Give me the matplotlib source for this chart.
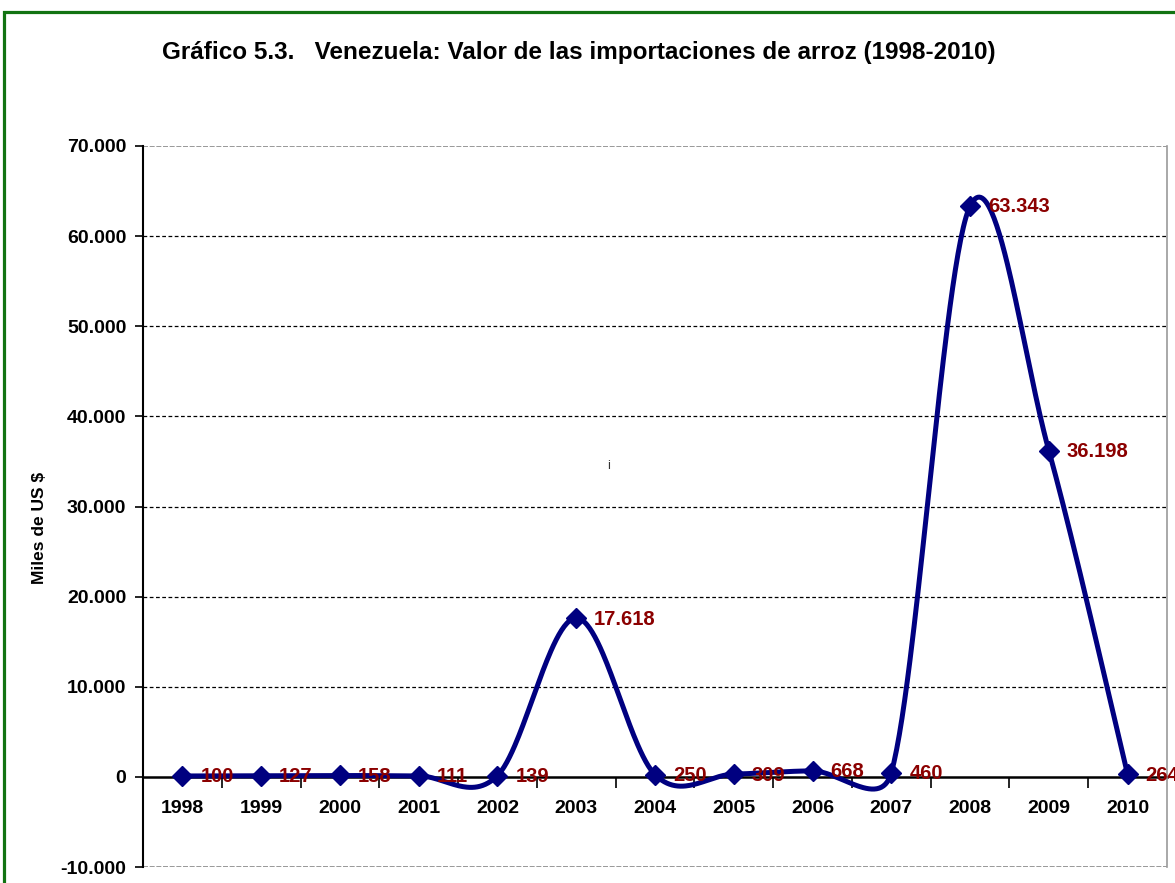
import numpy as np
import matplotlib
matplotlib.use("Agg")
import matplotlib.pyplot as plt
from matplotlib.patches import Rectangle
from matplotlib.ticker import FixedLocator, FuncFormatter

# ---- data ----
years = ["1998", "1999", "2000", "2001", "2002", "2003", "2004",
         "2005", "2006", "2007", "2008", "2009", "2010"]
values = [100, 127, 158, 111, 139, 17618, 250, 309, 668, 460, 63343, 36198, 264]
y_ticks = [-10000, 0, 10000, 20000, 30000, 40000, 50000, 60000, 70000]
title = "Gráfico 5.3.   Venezuela: Valor de las importaciones de arroz (1998-2010)"
ylabel = "Miles de US $"

plt.rcParams['font.family'] = ['Liberation Sans', 'DejaVu Sans']

W, H, DPI = 1175, 883, 100
fig = plt.figure(figsize=(W / DPI, H / DPI), dpi=DPI)
fig.patch.set_facecolor("white")

# green frame
fig.patches.append(Rectangle((4 / W, -0.2), 1.5, 1 - 12 / H + 0.2, transform=fig.transFigure,
                             fill=False, edgecolor="#127312", linewidth=2.3, zorder=0))

ax = fig.add_axes([143 / W, 1 - 867 / H, (1167 - 143) / W, (867 - 146) / H])
ax.set_facecolor("none")
ax.set_xlim(-0.5, len(values) - 0.5)
ax.set_ylim(y_ticks[0], y_ticks[-1])

x = np.arange(len(values))
v = np.array(values, dtype=float)

# Excel-like smoothed line: Bezier segments built in display space,
# control arms = 1/6 of neighbour chord, limited to half of the segment length
P = ax.transData.transform(np.column_stack([x, v]))
n = len(P)
curve = []
tt = np.linspace(0, 1, 60)[:, None]
for i in range(n - 1):
    p0 = P[i - 1] if i > 0 else P[i]
    p1 = P[i]
    p2 = P[i + 1]
    p3 = P[i + 2] if i + 2 < n else P[i + 1]
    d12 = np.hypot(*(p2 - p1))
    d02 = np.hypot(*(p2 - p0))
    d13 = np.hypot(*(p3 - p1))
    f1 = 1 / 6 if d02 / 6 < d12 / 2 else d12 / (2 * d02)
    f2 = 1 / 6 if d13 / 6 < d12 / 2 else d12 / (2 * d13)
    b1 = p1 + (p2 - p0) * f1
    b2 = p2 - (p3 - p1) * f2
    seg = ((1 - tt) ** 3) * p1 + 3 * ((1 - tt) ** 2) * tt * b1 + 3 * (1 - tt) * tt ** 2 * b2 + tt ** 3 * p2
    curve.append(seg)
curve = np.vstack(curve)
curve_data = ax.transData.inverted().transform(curve)

navy = "#000080"
ax.plot(curve_data[:, 0], curve_data[:, 1], color=navy, linewidth=3.6,
        solid_capstyle="round", solid_joinstyle="round", zorder=3, clip_on=False)
ax.plot(x, v, linestyle="none", marker="D", markersize=10.5, color=navy, zorder=4, clip_on=False)

for xi, vi in zip(x, values):
    ax.annotate(f"{vi:,}".replace(",", "."), (xi, vi), xytext=(18, -1), textcoords="offset pixels",
                ha="left", va="center", fontsize=14.5, fontweight="bold", color="#8B0000",
                zorder=5, annotation_clip=False)

# gridlines
for yt in y_ticks[2:-1]:
    ax.axhline(yt, color="black", linewidth=0.9, linestyle=(0, (3, 2)), zorder=1)
ax.axhline(y_ticks[-1], color="#888888", linewidth=1.2, linestyle=(0, (3, 1)), zorder=1)
ax.axhline(y_ticks[0], color="#888888", linewidth=1.2, linestyle=(0, (3, 1)), zorder=1)

# spines
ax.spines["top"].set_visible(False)
ax.spines["right"].set_color("#999999")
ax.spines["right"].set_linewidth(1.2)
ax.spines["left"].set_color("black")
ax.spines["left"].set_linewidth(1.5)
ax.spines["bottom"].set_position(("data", 0))
ax.spines["bottom"].set_color("black")
ax.spines["bottom"].set_linewidth(1.8)
ax.spines["bottom"].set_zorder(2)

ax.yaxis.set_major_locator(FixedLocator(y_ticks))
ax.yaxis.set_major_formatter(FuncFormatter(lambda val, p: f"{int(val):,}".replace(",", ".")))
ax.tick_params(axis="y", length=6, width=1.2, pad=6, labelsize=14, direction="out")
for lab in ax.get_yticklabels():
    lab.set_fontweight("bold")

ax.set_xticks(x)
ax.set_xticklabels(years)
ax.set_xticks(x[:-1] + 0.5, minor=True)
ax.tick_params(axis="x", which="major", length=0, pad=17, labelsize=14)
ax.tick_params(axis="x", which="minor", length=8, width=1.2, direction="out")
for lab in ax.get_xticklabels():
    lab.set_fontweight("bold")

fig.text(579 / W, 1 - 53 / H, title, ha="center", va="center", fontsize=17.5, fontweight="bold")
fig.text(40 / W, 1 - 528 / H, ylabel, ha="center", va="center", rotation=90,
         fontsize=12.5, fontweight="bold")
fig.text(609 / W, 1 - 466 / H, "i", ha="center", va="center", fontsize=9, color="#333333")

fig.savefig("out.png", dpi=DPI)
